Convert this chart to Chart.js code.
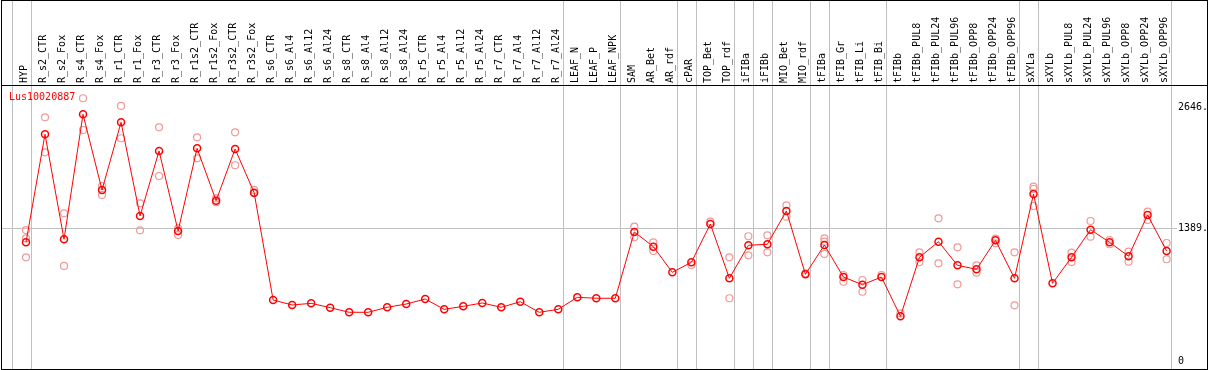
<!DOCTYPE html>
<html>
<head>
<meta charset="utf-8">
<script src="https://cdn.jsdelivr.net/npm/chart.js@4/dist/chart.umd.min.js"></script>
<style>
  body { margin: 0; background: #fff; }
  #wrap { width: 1209px; height: 370px; }
</style>
</head>
<body>
<div id="wrap"><canvas id="chart" width="1209" height="370"></canvas></div>
<script>
const geneName = 'Lus10020887';

const categories = ['HYP', 'R_s2_CTR', 'R_s2_Fox', 'R_s4_CTR', 'R_s4_Fox', 'R_r1_CTR', 'R_r1_Fox',
  'R_r3_CTR', 'R_r3_Fox', 'R_r1s2_CTR', 'R_r1s2_Fox', 'R_r3s2_CTR', 'R_r3s2_Fox', 'R_s6_CTR',
  'R_s6_Al4', 'R_s6_Al12', 'R_s6_Al24', 'R_s8_CTR', 'R_s8_Al4', 'R_s8_Al12', 'R_s8_Al24',
  'R_r5_CTR', 'R_r5_Al4', 'R_r5_Al12', 'R_r5_Al24', 'R_r7_CTR', 'R_r7_Al4', 'R_r7_Al12', 'R_r7_Al24',
  'LEAF_N', 'LEAF_P', 'LEAF_NPK', 'SAM', 'AR_Bet', 'AR_rdf', 'cPAR', 'TOP_Bet', 'TOP_rdf',
  'iFIBa', 'iFIBb', 'MIO_Bet', 'MIO_rdf', 'tFIBa', 'tFIB_Gr', 'tFIB_Li', 'tFIB_Bi', 'tFIBb',
  'tFIBb_PUL8', 'tFIBb_PUL24', 'tFIBb_PUL96', 'tFIBb_OPP8', 'tFIBb_OPP24', 'tFIBb_OPP96',
  'sXYLa', 'sXYLb', 'sXYLb_PUL8', 'sXYLb_PUL24', 'sXYLb_PUL96', 'sXYLb_OPP8', 'sXYLb_OPP24', 'sXYLb_OPP96'];

// mean expression per sample
const meanValues = [1242, 2366, 1274, 2574, 1787, 2491, 1516, 2193, 1360, 2220, 1675, 2213, 1759, 642,
  590, 607, 562, 514, 514, 566, 600, 652, 545, 576, 611, 566, 624, 514, 545,
  670, 660, 660, 1350, 1197, 930, 1034, 1433, 868, 1211, 1222, 1568, 909, 1214, 881, 801, 881, 472,
  1086, 1249, 1003, 961, 1263, 868, 1745, 816, 1086, 1374, 1242, 1097, 1527, 1152];

// replicates (null where hidden under the mean)
const repA = [1370, 2543, 1544, 2741, 1828, 2661, 1648, 2439, 1388, 2335, 1700, 2387, 1787, null,
  null, null, null, null, null, null, null, null, null, null, null, null, null, null, null,
  null, null, null, 1405, 1242, null, null, 1457, 1086, 1305, 1315, 1627, 920, 1284, 902, 850, 902, 503,
  1138, 1492, 1190, 1003, 1280, 1138, 1821, null, 1134, 1464, 1266, 1145, 1561, 1235];
const repB = [1086, 2179, 996, 2411, 1735, 2325, 1367, 1932, 1318, 2116, 1659, 2044, 1752, null,
  null, null, null, null, null, null, null, null, null, null, null, null, null, null, null,
  null, null, null, 1294, 1152, null, 1006, null, 660, 1107, 1138, 1509, null, 1121, 832, 728, null, null,
  1037, 1024, 805, 926, 1232, 587, 1620, null, 1037, 1301, 1222, 1041, 1475, 1066];
const repC = [1284, null, null, null, null, null, null, null, null, null, null, null, null, null,
  null, null, null, null, null, null, null, null, null, null, null, null, null, null, null,
  null, null, null, null, null, null, null, null, null, null, null, null, null, 1249, null, null, null, null,
  null, null, null, null, null, null, 1797, null, null, null, null, null, null, null];

const yTicks = [0, 1389, 2646];

// sample index after which a group separator is drawn (-1 = before the first)
const groupEnds = [-1, 0, 28, 31, 34, 35, 37, 38, 39, 41, 42, 45, 52, 53, 60];

const toPoints = arr => arr.map((v, i) => ({ x: i, y: v }));
const mono = { family: '"DejaVu Sans Mono", monospace', size: 10 };

const noPad = s => { s.paddingLeft = 0; s.paddingRight = 0; s.paddingTop = 0; s.paddingBottom = 0; };

const frame = {
  id: 'frame',
  beforeDatasetsDraw(chart) {
    const ctx = chart.ctx;
    const xs = chart.scales.x;
    ctx.save();
    ctx.strokeStyle = '#c0c0c0';
    ctx.lineWidth = 1;
    groupEnds.forEach(g => {
      const x = Math.round(xs.getPixelForValue(g + 0.24)) + 0.5;
      ctx.beginPath();
      ctx.moveTo(x, 0);
      ctx.lineTo(x, 369);
      ctx.stroke();
    });
    ctx.restore();
  },
  afterDraw(chart) {
    const ctx = chart.ctx;
    ctx.save();
    ctx.strokeStyle = '#000';
    ctx.lineWidth = 1;
    ctx.strokeRect(1.5, 0.5, 1206, 369);
    ctx.beginPath();
    ctx.moveTo(1, 85.5);
    ctx.lineTo(1208, 85.5);
    ctx.stroke();
    ctx.fillStyle = '#ff0000';
    ctx.font = '10px "DejaVu Sans Mono", monospace';
    ctx.textBaseline = 'middle';
    ctx.fillText(geneName, 9, 97);
    ctx.restore();
  }
};

new Chart(document.getElementById('chart'), {
  type: 'line',
  data: {
    datasets: [
      {
        data: toPoints(meanValues),
        borderColor: '#ff0000',
        borderWidth: 1,
        pointStyle: 'circle',
        pointRadius: 3.5,
        pointBorderWidth: 1.5,
        pointBorderColor: '#ff0000',
        pointBackgroundColor: 'rgba(0,0,0,0)',
        order: 0
      },
      ...[repA, repB, repC].map(r => ({
        data: toPoints(r),
        showLine: false,
        pointRadius: 3.5,
        pointBorderWidth: 1.2,
        pointBorderColor: '#f09999',
        pointBackgroundColor: 'rgba(0,0,0,0)',
        order: 1
      }))
    ]
  },
  options: {
    responsive: false,
    animation: false,
    layout: { autoPadding: false, padding: { left: 1, right: 1, top: 0, bottom: 1 } },
    plugins: { legend: { display: false }, tooltip: { enabled: false } },
    scales: {
      x: {
        type: 'linear',
        position: 'top',
        min: (1 - 26) / 19.01,
        max: (1177 - 26) / 19.01,
        afterBuildTicks: s => { s.ticks = categories.map((_, i) => ({ value: i })); },
        afterFit: s => { s.height = 85; noPad(s); },
        grid: { display: false, drawTicks: false },
        border: { display: false },
        ticks: {
          autoSkip: false,
          minRotation: 90,
          maxRotation: 90,
          padding: 2,
          color: '#000',
          font: { ...mono, lineHeight: 0.2 },
          callback: v => categories[v] ?? ''
        }
      },
      y: {
        position: 'right',
        min: -76,
        max: 2879,
        afterBuildTicks: s => { s.ticks = yTicks.map(v => ({ value: v })); },
        afterFit: s => { s.width = 31; noPad(s); },
        grid: {
          drawTicks: false,
          color: c => (c.tick && c.tick.value === 1389 ? '#c0c0c0' : 'rgba(0,0,0,0)')
        },
        border: { display: false },
        ticks: {
          padding: 1,
          color: '#000',
          font: mono,
          callback: v => (v === 0 ? '0' : v + '.')
        }
      }
    }
  },
  plugins: [frame]
});
</script>
</body>
</html>
